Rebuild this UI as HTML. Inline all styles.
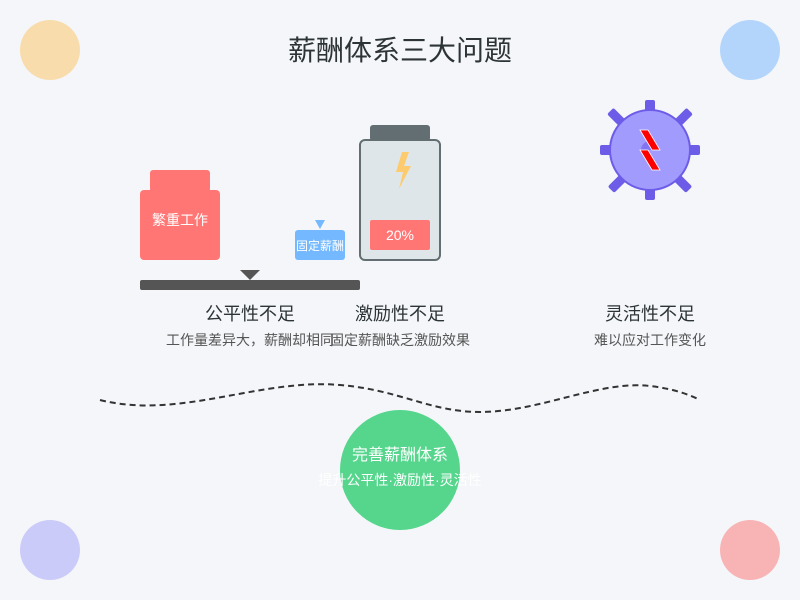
<!DOCTYPE html>
<html><head><meta charset="utf-8"><style>
html,body{margin:0;padding:0;background:#f5f6fa;}
svg{display:block;font-family:"Liberation Sans","Noto Sans CJK SC",sans-serif;}
</style></head><body>
<svg width="800" height="600" viewBox="0 0 800 600">
<rect width="800" height="600" fill="#f5f6fa"/>
<circle cx="50" cy="50" r="30" fill="#f8dcac"/>
<circle cx="750" cy="50" r="30" fill="#b3d5fb"/>
<circle cx="50" cy="550" r="30" fill="#cbcbf9"/>
<circle cx="750" cy="550" r="30" fill="#f8b4b5"/>
<text x="400" y="60" font-size="28" text-anchor="middle" fill="#2d3436">薪酬体系三大问题</text>

<!-- weight -->
<rect x="150" y="170" width="60" height="22" rx="3" fill="#ff7675"/>
<rect x="140" y="190" width="80" height="70" rx="4" fill="#ff7675"/>
<text x="180" y="225" font-size="14" fill="#fff" text-anchor="middle">繁重工作</text>
<rect x="295" y="230" width="50" height="30" rx="3" fill="#74b9ff"/>
<text x="320" y="250" font-size="12" fill="#fff" text-anchor="middle">固定薪酬</text>
<polygon points="315,220 325,220 320,229" fill="#74b9ff"/>
<polygon points="240,270 260,270 250,280" fill="#555"/>
<rect x="140" y="280" width="220" height="10" rx="2" fill="#555"/>

<!-- battery -->
<rect x="370" y="125" width="60" height="16" rx="3" fill="#636e72"/>
<rect x="360" y="140" width="80" height="120" rx="5" fill="#dfe6e9" stroke="#636e72" stroke-width="2"/>
<polygon points="402,152 396,172 403,172 399,189 411,166 404,166 409,152" fill="#fdcb6e"/>
<rect x="370" y="220" width="60" height="30" rx="2" fill="#ff7675"/>
<text x="400" y="240" font-size="14" fill="#fff" text-anchor="middle">20%</text>

<!-- gear -->
<g fill="#6c5ce7">
<rect x="645" y="100" width="10" height="20" rx="2"/>
<rect x="645" y="180" width="10" height="20" rx="2"/>
<rect x="600" y="145" width="20" height="10" rx="2"/>
<rect x="680" y="145" width="20" height="10" rx="2"/>
<rect x="608" y="113" width="18" height="9" rx="2" transform="rotate(45 617 117)"/>
<rect x="674" y="113" width="18" height="9" rx="2" transform="rotate(-45 683 117)"/>
<rect x="608" y="179" width="18" height="9" rx="2" transform="rotate(-45 617 183)"/>
<rect x="674" y="179" width="18" height="9" rx="2" transform="rotate(45 683 183)"/>
</g>
<circle cx="650" cy="150" r="40" fill="#a29bfe" stroke="#6c5ce7" stroke-width="2"/>
<path d="M641,150 A9,9 0 0 1 659,150 Z" fill="#6c5ce7" opacity="0.6"/>
<polygon points="640,130 648,130 660,150 652,150" fill="#ff0000" stroke="#fff" stroke-width="0.8"/>
<polygon points="640,150 648,150 660,170 652,170" fill="#ff0000" stroke="#fff" stroke-width="0.8"/>

<text x="250" y="320" font-size="18" fill="#2d3436" text-anchor="middle">公平性不足</text>
<text x="250" y="345" font-size="14" fill="#555" text-anchor="middle">工作量差异大，薪酬却相同</text>
<text x="400" y="320" font-size="18" fill="#2d3436" text-anchor="middle">激励性不足</text>
<text x="400" y="345" font-size="14" fill="#555" text-anchor="middle">固定薪酬缺乏激励效果</text>
<text x="650" y="320" font-size="18" fill="#2d3436" text-anchor="middle">灵活性不足</text>
<text x="650" y="345" font-size="14" fill="#555" text-anchor="middle">难以应对工作变化</text>

<path d="M100,400 C180,420 260,378 340,385 C400,390 430,412 480,412 C540,412 600,380 650,386 C675,389 690,395 700,400" fill="none" stroke="#333" stroke-width="2" stroke-dasharray="6,4"/>

<circle cx="400" cy="470" r="60" fill="#55d68c"/>
<text x="400" y="460" font-size="16" fill="#fff" text-anchor="middle">完善薪酬体系</text>
<text x="400" y="485" font-size="14" fill="#fff" text-anchor="middle">提升公平性·激励性·灵活性</text>
</svg>
</body></html>
